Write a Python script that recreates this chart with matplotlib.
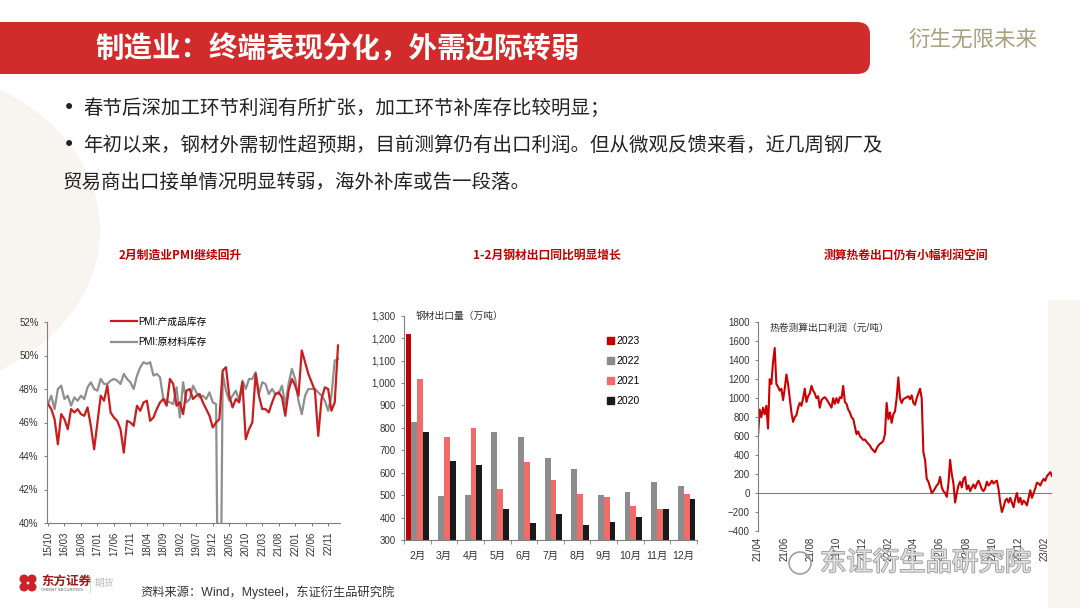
import numpy as np
import pandas as pd
import matplotlib
matplotlib.use("Agg")
import matplotlib.pyplot as plt
from matplotlib.patches import FancyBboxPatch, Rectangle, Ellipse, Patch
from matplotlib.lines import Line2D
import matplotlib.patheffects as pe

plt.rcParams['font.family'] = ['Liberation Sans', 'Noto Sans CJK SC', 'DejaVu Sans']

# PMI 库存（2015/10 - 2023/02，月度）
pmi_months = pd.period_range('2015-10', '2023-02', freq='M')
pmi_finished = [47.1, 46.8, 46.2, 44.7, 46.5, 46.2, 45.6, 46.8, 46.6, 46.8,
                46.5, 46.4, 46.9, 45.8, 44.4, 46.0, 47.6, 47.3, 48.2, 46.6,
                46.3, 46.1, 45.6, 44.2, 46.1, 46.0, 45.8, 47.0, 46.7, 47.2,
                47.3, 46.1, 46.3, 46.8, 47.2, 47.4, 47.0, 48.6, 48.3, 47.0,
                47.2, 46.5, 47.9, 48.0, 47.4, 47.6, 47.7, 47.2, 46.8, 46.4,
                45.7, 46.0, 46.2, 49.1, 49.3, 47.6, 46.9, 47.4, 47.2, 48.4,
                45.0, 45.6, 46.0, 48.9, 47.6, 46.8, 46.8, 46.6, 47.2, 47.7,
                47.8, 47.5, 46.4, 47.9, 48.6, 48.2, 47.6, 50.3, 49.6, 48.9,
                48.4, 47.9, 45.2, 47.4, 48.1, 48.0, 46.7, 47.2, 50.6]
pmi_raw = [47.1, 47.6, 46.8, 48.0, 48.2, 47.4, 47.6, 47.0, 47.5, 47.3,
           47.6, 47.4, 48.1, 48.4, 48.0, 47.9, 48.6, 48.3, 48.3, 48.5,
           48.6, 48.5, 48.3, 48.9, 48.6, 48.4, 48.0, 48.8, 49.3, 49.6,
           49.5, 49.6, 48.8, 48.9, 48.7, 47.4, 47.3, 47.2, 47.1, 48.1,
           46.3, 48.4, 47.2, 47.4, 48.2, 47.8, 47.5, 47.6, 47.4, 47.8,
           47.2, 47.1, 25.0, 48.9, 47.9, 47.3, 47.6, 47.9, 47.3, 48.5,
           48.0, 48.6, 48.6, 49.0, 47.7, 48.4, 48.3, 47.7, 48.0, 47.7,
           47.7, 48.2, 47.0, 48.3, 49.2, 48.6, 47.3, 46.5, 47.6, 48.0,
           48.0, 48.0, 47.8, 47.6, 47.3, 46.7, 47.6, 49.7, 49.8]

# 钢材出口量（万吨）
bar_months = ['2月', '3月', '4月', '5月', '6月', '7月', '8月', '9月', '10月', '11月', '12月']
exp_2023 = [1220, np.nan, np.nan, np.nan, np.nan, np.nan, np.nan, np.nan, np.nan, np.nan, np.nan]
exp_2022 = [825, 498, 500, 780, 759, 665, 618, 501, 514, 559, 542]
exp_2021 = [1018, 759, 798, 527, 649, 569, 505, 493, 452, 439, 505]
exp_2020 = [780, 651, 633, 439, 374, 417, 366, 380, 403, 439, 484]

# 热卷测算出口利润（元/吨），2021/04 - 2023/02
profit_start, profit_end = '2021-04-01', '2023-02-18'
profit = [600, 880, 800, 900, 830, 920, 680, 1200, 1150, 1380,
          1530, 1150, 1120, 1080, 1100, 980, 1100, 1250, 1150, 1000,
          850, 750, 800, 820, 900, 950, 920, 1000, 1100, 960,
          1020, 1050, 1130, 1080, 1050, 1000, 1020, 900, 980, 1000,
          1010, 990, 960, 930, 900, 1000, 940, 1000, 950, 1010,
          1000, 1130, 960, 940, 880, 850, 800, 780, 700, 620,
          650, 600, 580, 560, 565, 540, 520, 500, 470, 450,
          430, 470, 500, 520, 530, 550, 620, 950, 780, 850,
          740, 830, 860, 1000, 1220, 1000, 950, 990, 1000, 1010,
          1020, 990, 1030, 950, 930, 1000, 1050, 1100, 1000, 430,
          350, 150, 120, 60, 0, 20, 50, 80, 100, 170,
          60, 20, 0, -40, 100, 350, 200, 100, -100, 0,
          80, 120, 60, 150, 170, 40, 80, 20, 60, 90,
          50, 100, 130, 90, 40, 20, 50, 120, 80, 100,
          130, 100, 120, 130, 40, -100, -200, -150, -80, -60,
          -100, -50, -100, -150, -60, 0, -100, -50, -120, -80,
          -100, -130, -50, 30, -50, 0, 50, 110, 100, 80,
          120, 150, 130, 180, 200, 220, 180]

RED = '#C81E1E'
GRAY_AX = '#7F7F7F'


def fx(x):
    return x / 1080


def fy(y):
    return 1 - y / 608


fig = plt.figure(figsize=(10.8, 6.08), dpi=100)
fig.patch.set_facecolor('white')

# 背景装饰（淡色）
fig.add_artist(Ellipse((fx(-110), fy(230)), fx(420), 330 / 608,
                       transform=fig.transFigure, fc='#F8F5F0', ec='none', zorder=0))
fig.add_artist(Rectangle((fx(1048), 0), fx(32), fy(300), transform=fig.transFigure,
                         fc='#F8F5F0', ec='none', zorder=0))

# 标题栏
fig.add_artist(FancyBboxPatch((fx(-30), fy(74)), fx(900), 52 / 608,
                              boxstyle='round,pad=0,rounding_size=0.012',
                              mutation_aspect=1.7, transform=fig.transFigure,
                              fc='#D22B2B', ec='none', zorder=1))
fig.text(fx(95), fy(49), '制造业：终端表现分化，外需边际转弱', color='white',
         fontsize=20.5, fontweight='bold', va='center', family=['Noto Sans CJK SC'])
fig.text(fx(908), fy(40), '衍生无限未来', color='#A8A07F', fontsize=15.5,
         va='center', family=['Noto Sans CJK SC'])

body = dict(fontsize=14, color='#222222', va='center', family=['Noto Sans CJK SC', 'DejaVu Sans'])
dot = dict(fontsize=15, color='#222222', va='center', family=['DejaVu Sans'])
fig.text(fx(63), fy(108), '•', **dot)
fig.text(fx(83), fy(108), '春节后深加工环节利润有所扩张，加工环节补库存比较明显；', **body)
fig.text(fx(63), fy(145), '•', **dot)
fig.text(fx(83), fy(145), '年初以来，钢材外需韧性超预期，目前测算仍有出口利润。但从微观反馈来看，近几周钢厂及', **body)
fig.text(fx(63), fy(182), '贸易商出口接单情况明显转弱，海外补库或告一段落。', **body)

sub = dict(fontsize=8.5, color='#C00000', fontweight='bold', ha='center', va='center',
           family=['Noto Sans CJK SC'])
fig.text(fx(180), fy(255), '2月制造业PMI继续回升', **sub)
fig.text(fx(547), fy(255), '1-2月钢材出口同比明显增长', **sub)
fig.text(fx(906), fy(255), '测算热卷出口仍有小幅利润空间', **sub)


def style_axes(ax):
    ax.set_facecolor('none')
    for s in ['top', 'right']:
        ax.spines[s].set_visible(False)
    for s in ['left', 'bottom']:
        ax.spines[s].set_color(GRAY_AX)
        ax.spines[s].set_linewidth(0.8)
    ax.tick_params(labelsize=7, colors='#333333', length=2.5, width=0.7)
    ax.tick_params(color=GRAY_AX)


# 图1：PMI
ax1 = fig.add_axes([fx(47), fy(523), fx(293), 201 / 608])
style_axes(ax1)
xi = np.arange(len(pmi_months))
ax1.plot(xi, pmi_raw, color='#8F8F8F', lw=1.6, label='PMI:原材料库存')
ax1.plot(xi, pmi_finished, color=RED, lw=1.6, label='PMI:产成品库存')
ax1.set_ylim(40, 52)
ax1.set_yticks(range(40, 53, 2))
ax1.set_yticklabels([f'{v}%' for v in range(40, 53, 2)])
ax1.set_xlim(-0.3, 88.6)
ax1.set_xticks(xi[::5])
ax1.set_xticklabels([p.strftime('%y/%m') for p in pmi_months[::5]], rotation=90)
h1 = [Line2D([], [], color=RED, lw=1.6), Line2D([], [], color='#8F8F8F', lw=1.6)]
ax1.legend(h1, ['PMI:产成品库存', 'PMI:原材料库存'], loc='upper left',
           bbox_to_anchor=(0.19, 1.07), frameon=False, fontsize=7,
           handlelength=2.6, handletextpad=0.2, labelspacing=1.1)

# 图2：钢材出口
ax2 = fig.add_axes([fx(404), fy(540), fx(293), 224.3 / 608])
style_axes(ax2)
bx = np.arange(len(bar_months))
w = 0.22
series = [(exp_2023, '#C00000', '2023'), (exp_2022, '#8C8C8C', '2022'),
          (exp_2021, '#F26B6B', '2021'), (exp_2020, '#1A1A1A', '2020')]
for k, (vals, col, lab) in enumerate(series):
    v = np.array(vals, dtype=float)
    ax2.bar(bx + (k - 1.5) * w, v - 300, width=w, bottom=300, color=col, label=lab)
ax2.set_ylim(300, 1300)
ax2.set_yticks(range(300, 1301, 100))
ax2.set_yticklabels([f'{v:,}' for v in range(300, 1301, 100)])
ax2.set_xlim(-0.5, len(bar_months) - 0.5)
ax2.set_xticks(bx)
ax2.set_xticklabels(bar_months, fontsize=7.5)
ax2.tick_params(axis='x', length=0, pad=8)
ax2.set_xticks(np.arange(len(bar_months) + 1) - 0.5, minor=True)
ax2.tick_params(axis='x', which='minor', length=3, color=GRAY_AX)
h2 = [Patch(color=c) for _, c, _ in series]
ax2.legend(h2, [s[2] for s in series], loc='upper left', bbox_to_anchor=(0.66, 0.95),
           frameon=False, fontsize=7.5, handlelength=0.7, handleheight=0.7,
           handletextpad=0.2, labelspacing=0.95)
ax2.text(0.04, 1.0, '钢材出口量（万吨）', transform=ax2.transAxes, fontsize=7,
         va='center', color='#333333')

# 图3：热卷出口利润
ax3 = fig.add_axes([fx(758), fy(531), fx(294), 208.7 / 608])
style_axes(ax3)
dates = pd.date_range(profit_start, profit_end, periods=len(profit))
ax3.axhline(0, color=GRAY_AX, lw=0.8, zorder=1)
ax3.plot(dates, profit, color='#CC0000', lw=1.5, zorder=2)
ax3.spines['bottom'].set_visible(False)
ax3.set_ylim(-400, 1800)
ax3.set_yticks(range(-400, 1801, 200))
ax3.set_xlim(dates[0], dates[-1])
tick_dates = pd.date_range('2021-04-01', '2023-02-01', freq='2MS')
ax3.set_xticks(tick_dates)
ax3.set_xticklabels([d.strftime('%y/%m') for d in tick_dates], rotation=90)
ax3.tick_params(axis='x', length=0, pad=4)
ax3.text(0.04, 0.975, '热卷测算出口利润（元/吨）', transform=ax3.transAxes, fontsize=7,
         va='center', color='#333333')

# 页脚
for dx, dy in [(-4, -4), (4, -4), (-4, 4), (4, 4)]:
    fig.add_artist(Ellipse((fx(28 + dx), fy(583 + dy)), fx(9), 9 / 608,
                           transform=fig.transFigure, fc='#D0202A', ec='none'))
fig.text(fx(41), fy(581), '东方证券', fontsize=9, fontweight='bold', color='#9B1B1B',
         va='center', family=['Noto Sans CJK SC'])
fig.text(fx(41), fy(590), 'ORIENT SECURITIES', fontsize=3, color='#555555', va='center')
fig.add_artist(Line2D([fx(90), fx(90)], [fy(575), fy(592)], transform=fig.transFigure,
                      color='#DDDDDD', lw=0.8))
fig.text(fx(95), fy(583), '期货', fontsize=7, color='#BBBBBB', va='center',
         family=['Noto Sans CJK SC'])
fig.text(fx(140), fy(592), '资料来源：Wind，Mysteel，东证衍生品研究院', fontsize=8.8,
         color='#333333', va='center')

# 水印
fig.add_artist(Ellipse((fx(800), fy(563)), fx(22), 22 / 608, transform=fig.transFigure,
                       fc='none', ec='#A0A0A0', lw=1.2))
wm = fig.text(fx(820), fy(563), '东证衍生品研究院', fontsize=19, color='#E0E0E0',
              va='center', family=['Noto Sans CJK SC'])
wm.set_path_effects([pe.Stroke(linewidth=1.2, foreground='#9A9A9A'), pe.Normal()])

fig.savefig('out.png', dpi=100)
